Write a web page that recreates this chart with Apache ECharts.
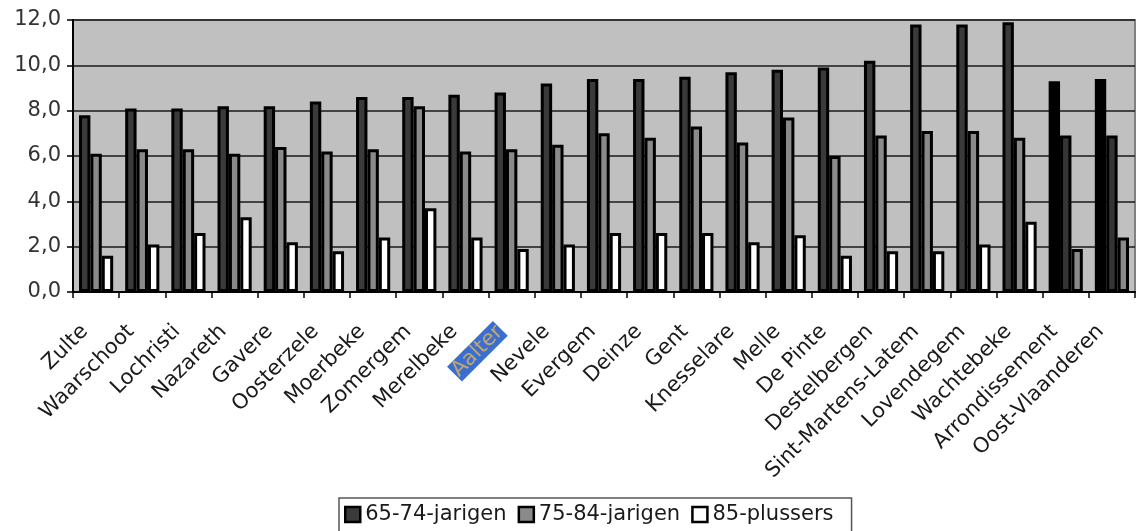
<!DOCTYPE html>
<html>
<head>
<meta charset="utf-8">
<script src="https://cdn.jsdelivr.net/npm/echarts@6/dist/echarts.min.js"></script>
<style>
html,body{margin:0;padding:0;background:#fff;}
#c{width:1138px;height:531px;}
</style>
</head>
<body>
<div id="c"></div>
<script>
var categories = ['Zulte','Waarschoot','Lochristi','Nazareth','Gavere','Oosterzele','Moerbeke','Zomergem','Merelbeke','Aalter','Nevele','Evergem','Deinze','Gent','Knesselare','Melle','De Pinte','Destelbergen','Sint-Martens-Latem','Lovendegem','Wachtebeke','Arrondissement','Oost-Vlaanderen'];
var seriesNames = ['65-74-jarigen','75-84-jarigen','85-plussers'];
var values6574 = [7.8,8.1,8.1,8.2,8.2,8.4,8.6,8.6,8.7,8.8,9.2,9.4,9.4,9.5,9.7,9.8,9.9,10.2,11.8,11.8,11.9,9.3,9.4];
var values7584 = [6.1,6.3,6.3,6.1,6.4,6.2,6.3,8.2,6.2,6.3,6.5,7.0,6.8,7.3,6.6,7.7,6.0,6.9,7.1,7.1,6.8,6.9,6.9];
var values85plus = [1.6,2.1,2.6,3.3,2.2,1.8,2.4,3.7,2.4,1.9,2.1,2.6,2.6,2.6,2.2,2.5,1.6,1.8,1.8,2.1,3.1,1.9,2.4];
var highlighted = 'Aalter';
var totalCategories = ['Arrondissement','Oost-Vlaanderen'];

var baseColors = ['#3a3a3a','#8a8a8a','#ffffff'];
var totalColors = ['#000000','#353535','#8a8a8a'];
var FONT = 'DejaVu Sans';

function buildData(vals, idx){
  return vals.map(function(v,i){
    var isTotal = totalCategories.indexOf(categories[i]) >= 0;
    return {value: v, itemStyle: {color: isTotal ? totalColors[idx] : baseColors[idx]}};
  });
}
var allValues = [values6574, values7584, values85plus];

var chart = echarts.init(document.getElementById('c'));
chart.setOption({
  animation: false,
  backgroundColor: '#ffffff',
  grid: {left: 73, right: 3, top: 20, bottom: 239, show: true, backgroundColor: '#c0c0c0', borderColor: '#808080', borderWidth: 2},
  legend: {
    data: seriesNames.map(function(n,i){return {name:n, itemStyle:{color: baseColors[i], borderColor:'#000', borderWidth:2.5}};}),
    left: 339, top: 498,
    icon: 'rect', itemWidth: 15, itemHeight: 15, itemGap: 11,
    padding: [6, 18, 8, 5],
    borderColor: '#555', borderWidth: 1.5,
    textStyle: {fontFamily: FONT, fontSize: 21, color: '#1a1a1a'}
  },
  xAxis: {
    type: 'category',
    data: categories,
    axisLine: {lineStyle: {color: '#000', width: 2}},
    axisTick: {show: true, length: 6, lineStyle: {color: '#000', width: 1.5}},
    axisLabel: {
      interval: 0, rotate: 45, margin: 25,
      padding: [0, 16, 0, 0],
      fontFamily: FONT, fontSize: 21, color: '#1a1a1a',
      formatter: function(v){ return v === highlighted ? '{hl|' + v + '}' : v; },
      rich: {hl: {backgroundColor: '#3b6fcf', color: '#c4a56c', fontFamily: FONT, fontSize: 21, padding: [0, 1]}}
    }
  },
  yAxis: {
    type: 'value', min: 0, max: 12, interval: 2,
    axisLine: {show: true, lineStyle: {color: '#000', width: 2}},
    axisTick: {show: true, length: 6, lineStyle: {color: '#000', width: 1.5}},
    splitLine: {show: true, lineStyle: {color: '#1a1a1a', width: 1.5}},
    axisLabel: {
      margin: 12, fontFamily: FONT, fontSize: 21, color: '#333',
      formatter: function(v){ return v.toFixed(1).replace('.', ','); }
    }
  },
  series: seriesNames.map(function(n, idx){
    return {
      name: n, type: 'bar',
      data: buildData(allValues[idx], idx),
      barGap: '0%', barCategoryGap: '26%',
      itemStyle: {borderColor: '#000', borderWidth: 3}
    };
  })
});
</script>
</body>
</html>
